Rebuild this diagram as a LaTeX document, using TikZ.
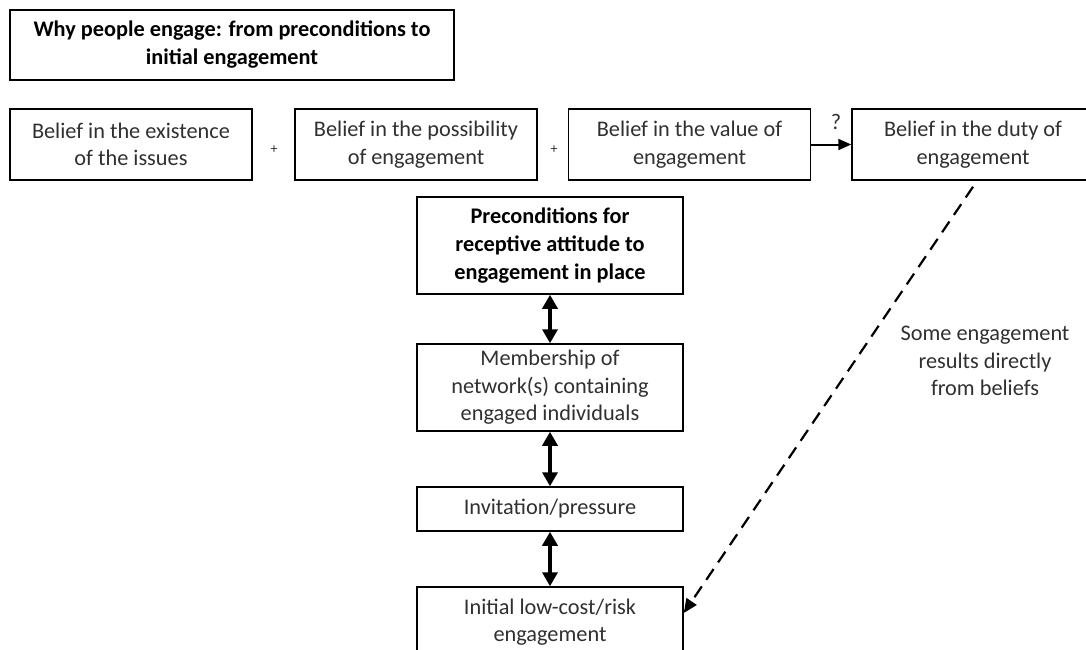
\documentclass[tikz,border=0pt]{standalone}
\usepackage{fontspec}
\setmainfont{Carlito}
\usepackage{xcolor}
\usetikzlibrary{arrows.meta}
\definecolor{boxtext}{RGB}{48,48,48}

\begin{document}
\begin{tikzpicture}[x=1pt,y=-1pt,
  box/.style={draw=black,line width=1.5pt,fill=white,inner sep=0pt,align=center,font=\fontsize{22.3}{27.5}\selectfont,text=boxtext},
  head/.style={box,font=\fontsize{22.3}{28}\selectfont\bfseries,text=black},
  belief/.style={box,minimum width=242pt,minimum height=71pt},
  stage/.style={box,minimum width=266pt},
  ar/.style={-{Triangle[length=13pt,width=11pt]},line width=2pt},
  dbl/.style={{Triangle[length=14pt,width=15pt]}-{Triangle[length=14pt,width=15pt]},line width=4pt},
  dsh/.style={-{Triangle[length=14pt,width=12pt]},line width=2.2pt,dash pattern=on 13pt off 8pt},
  oplab/.style={font=\fontsize{14}{14}\selectfont,text=boxtext},
  note/.style={align=center,font=\fontsize{22.3}{27.5}\selectfont,text=boxtext}
]
\useasboundingbox (0,0) rectangle (1086,649);

% TITLE
\node[head,minimum width=444pt,minimum height=70pt] (title) at (232,45) {Why people engage: from preconditions to\\initial engagement};

% TOP ROW: the four beliefs
\node[belief] (exist) at (131,144.5) {Belief in the existence\\of the issues};
\node[belief] (poss)  at (416,144.5) {Belief in the possibility\\of engagement};
\node[belief] (value) at (689.5,144.5) {Belief in the value of\\engagement};
\node[belief] (duty)  at (973,144.5) {Belief in the duty of\\engagement};

\node[oplab] (plus1) at (274,150) {+};
\node[oplab] (plus2) at (554,150) {+};

\draw[ar] (value.east) -- (duty.west);
\node[note] (qmark) at (836,122) {?};

% MIDDLE COLUMN
\node[stage,head,minimum width=266pt,minimum height=97pt] (pre) at (550,245.5) {Preconditions for\\receptive attitude to\\engagement in place};
\node[stage,minimum height=87pt] (member) at (550,387.5) {\raisebox{-4pt}{\begin{tabular}{@{}c@{}}Membership of\\network(s) containing\\engaged individuals\end{tabular}}};
\node[stage,minimum height=44pt] (invite) at (550,509) {Invitation/pressure};
\node[stage,minimum height=70pt] (initial) at (550,622) {Initial low-cost/risk\\engagement};

\draw[dbl] (pre.south) -- (member.north);
\draw[dbl] (member.south) -- (invite.north);
\draw[dbl] (invite.south) -- (initial.north);

% RIGHT: direct route
\draw[dsh] ([yshift=-6pt]duty.south) -- ([yshift=9pt]initial.east);
\node[note] (direct) at (985,361) {Some engagement\\results directly\\from beliefs};

\end{tikzpicture}
\end{document}
